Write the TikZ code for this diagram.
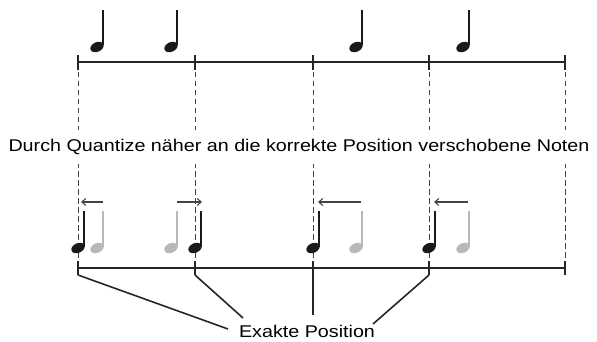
\documentclass[tikz,border=0pt]{standalone}
\usepackage{fontspec}
\setmainfont{Liberation Sans}
\usetikzlibrary{arrows.meta}
\definecolor{lightnote}{HTML}{B8B8B8}
\definecolor{arrowgray}{HTML}{444444}
\tikzset{
  mainline/.style={line width=1.2pt, black!85},
  barline/.style={dash pattern=on 5.5pt off 3.5pt, line width=0.9pt, black!75},
  leader/.style={line width=1.6pt, black!85},
  shiftarrow/.style={line width=1.1pt, arrowgray, -{Straight Barb[length=4pt,width=7pt]}},
  lbl/.style={font=\fontsize{17}{20}\selectfont, inner sep=0pt, xscale=1.16, transform shape},
  qnote/.pic={
    \fill[rotate=25] (0,0) ellipse [x radius=7pt, y radius=4.8pt];
    \draw[line width=1.3pt] (6,-1.5) -- (6,-37);
  }
}
\begin{document}
\begin{tikzpicture}[x=1pt,y=-1pt]
\useasboundingbox (0,0) rectangle (597,342);
% dashed bar lines
\foreach \bx in {78,195,313,429,565}{
  \draw[barline] (\bx,72) -- (\bx,261);
}
% middle text, covering dashes
\node[lbl, fill=white, minimum height=34pt] (mid) at (299,147) {Durch Quantize näher an die korrekte Position verschobene Noten};
% top staff line
\draw[mainline] (78,62) -- (565,62);
\foreach \bx in {78,195,313,429,565}{
  \draw[mainline] (\bx,55) -- (\bx,70);
}
% bottom staff line
\draw[mainline] (78,268) -- (565,268);
\foreach \bx in {78,195,313,429,565}{
  \draw[mainline] (\bx,261) -- (\bx,275);
}
% top notes
\foreach \nx in {97,171,356,463}{
  \pic[black!90] at (\nx,47) {qnote};
}
% bottom gray notes (original positions)
\foreach \nx in {97,171,356,463}{
  \pic[lightnote] at (\nx,248) {qnote};
}
% bottom black notes (quantized)
\foreach \nx in {78,195,313,429}{
  \pic[black!90] at (\nx,248) {qnote};
}
% shift arrows
\coordinate (a1s) at (103,202); \coordinate (a1e) at (81,202);
\coordinate (a2s) at (177,202); \coordinate (a2e) at (202,202);
\coordinate (a3s) at (361,202); \coordinate (a3e) at (318,202);
\coordinate (a4s) at (468,202); \coordinate (a4e) at (434,202);
\draw[shiftarrow] (a1s) -- (a1e);
\draw[shiftarrow] (a2s) -- (a2e);
\draw[shiftarrow] (a3s) -- (a3e);
\draw[shiftarrow] (a4s) -- (a4e);
% label
\node[lbl] (exakt) at (307,331) {Exakte Position};
\coordinate (p1) at (78,275); \coordinate (q1) at (228,329);
\coordinate (p2) at (195,275); \coordinate (q2) at (243,318);
\coordinate (p3) at (313,275); \coordinate (q3) at (313,315);
\coordinate (p4) at (429,275); \coordinate (q4) at (373,324);
\draw[leader] (p1) -- (q1);
\draw[leader] (p2) -- (q2);
\draw[leader] (p3) -- (q3);
\draw[leader] (p4) -- (q4);
\end{tikzpicture}
\end{document}
